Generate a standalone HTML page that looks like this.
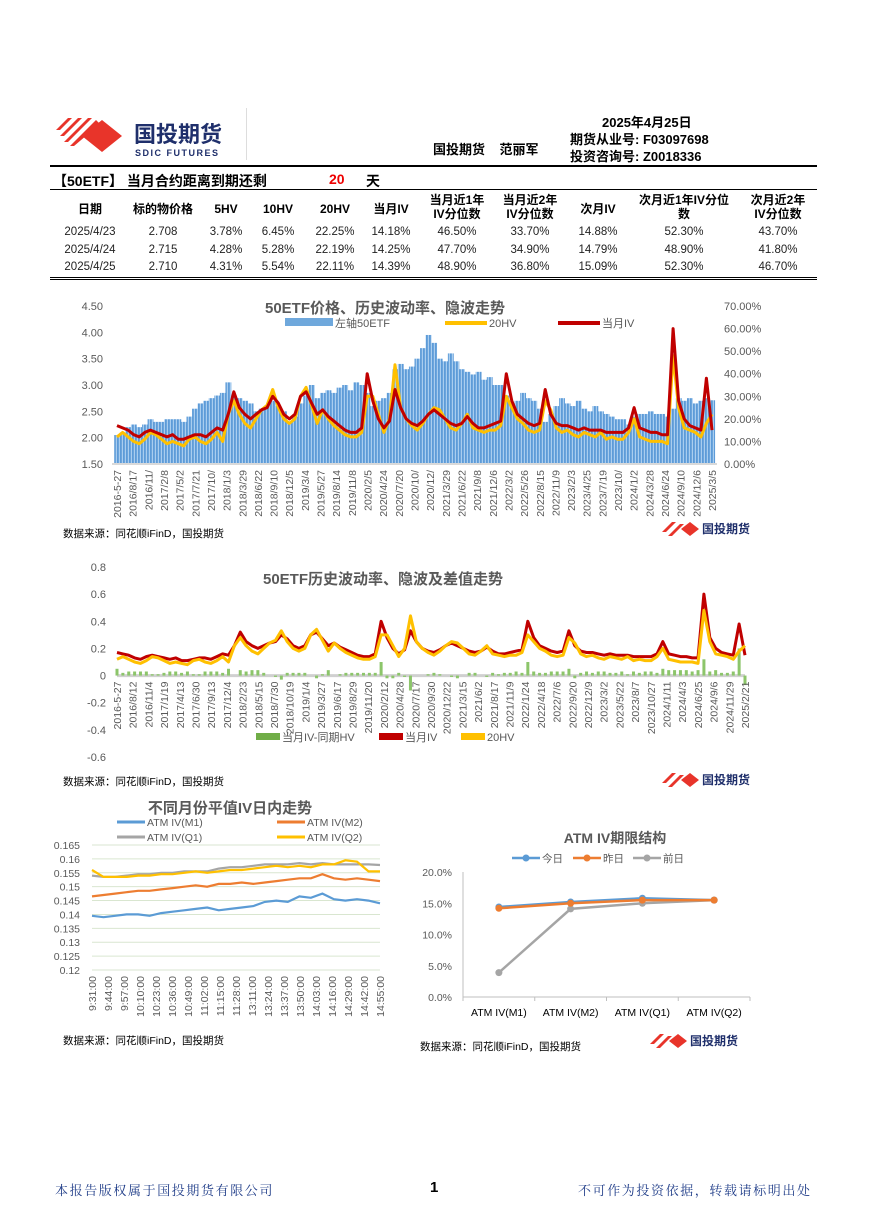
<!DOCTYPE html>
<html><head><meta charset="utf-8">
<style>
body{margin:0;background:#fff;}
#page{position:relative;width:870px;height:1231px;overflow:hidden;font-family:"Liberation Sans","Noto Sans CJK SC",sans-serif;color:#000;}
.abs{position:absolute;white-space:nowrap;}
.b{font-weight:bold;}
.c{text-align:center;}
.hd{font-size:12px;font-weight:bold;line-height:14px;}
.td{font-size:11.5px;color:#222;}
</style></head>
<body>
<div id="page">
<svg class="abs" style="left:50px;top:112px" width="200" height="50">
  <g fill="#e8342a">
    <polygon points="6,18 18,6 22,6 10,18"/><polygon points="10,24 28,6 32,6 14,24"/>
    <polygon points="14,30 38,6 42,6 18,30"/><polygon points="20,34 46,8 50,12 24,34"/>
    <polygon points="52,8 72,24 52,40 32,24"/>
  </g>
  <text x="84" y="30" font-size="22" font-weight="bold" fill="#1f2f6b" font-family="Liberation Sans,Noto Sans CJK SC,sans-serif">国投期货</text>
  <text x="85" y="44" font-size="9" font-weight="bold" fill="#1f2f6b" letter-spacing="1.5">SDIC FUTURES</text>
</svg>
<div class="abs" style="left:246px;top:108px;width:1px;height:52px;background:#ddd"></div>
<div class="abs b" style="left:602px;top:112px;font-size:13px">2025年4月25日</div>
<div class="abs b" style="left:433px;top:139px;font-size:13px">国投期货&nbsp;&nbsp;&nbsp;&nbsp;范丽军</div>
<div class="abs b" style="left:570px;top:131px;font-size:13px;line-height:17px">期货从业号: F03097698<br>投资咨询号: Z0018336</div>
<div class="abs" style="left:50px;top:165px;width:767px;height:2px;background:#000"></div>
<div class="abs b" style="left:53px;top:171px;font-size:14px">【50ETF】 当月合约距离到期还剩</div>
<div class="abs b" style="left:329px;top:171px;font-size:14px;color:#e00">20</div>
<div class="abs b" style="left:366px;top:171px;font-size:14px">天</div>
<div class="abs" style="left:50px;top:189px;width:767px;height:1px;background:#000"></div>
<div id="tbl"></div>
<div class="abs" style="left:50px;top:277px;width:767px;height:1px;background:#000"></div>
<div class="abs" style="left:50px;top:279px;width:767px;height:1px;background:#000"></div>

<svg id="charts" class="abs" style="left:0;top:0" width="870" height="1231">
  <defs>
    <pattern id="stripes" width="3" height="4" patternUnits="userSpaceOnUse">
      <rect width="3" height="4" fill="#a9cdef"/>
      <rect width="1.8" height="4" fill="#5d9bd8"/>
    </pattern>
  </defs>
</svg>

<div class="abs" style="left:55px;top:1180px;font-size:13px;letter-spacing:1.6px;color:#1f3c88;font-family:'Noto Serif CJK SC',serif">本报告版权属于国投期货有限公司</div>
<div class="abs b" style="left:430px;top:1179px;font-size:15px">1</div>
<div class="abs" style="left:578px;top:1180px;font-size:13px;letter-spacing:1.6px;color:#1f3c88;font-family:'Noto Serif CJK SC',serif">不可作为投资依据，转载请标明出处</div>
</div>

<script>
const tblHeaders=["日期","标的物价格","5HV","10HV","20HV","当月IV","当月近1年<br>IV分位数","当月近2年<br>IV分位数","次月IV","次月近1年IV分位<br>数","次月近2年<br>IV分位数"];
const tblRows=[
["2025/4/23","2.708","3.78%","6.45%","22.25%","14.18%","46.50%","33.70%","14.88%","52.30%","43.70%"],
["2025/4/24","2.715","4.28%","5.28%","22.19%","14.25%","47.70%","34.90%","14.79%","48.90%","41.80%"],
["2025/4/25","2.710","4.31%","5.54%","22.11%","14.39%","48.90%","36.80%","15.09%","52.30%","46.70%"]];
const colX=[90,163,226,278,335,391,457,530,598,684,778];
const colW=[70,80,50,50,50,50,70,70,60,110,80];
(function(){
 const t=document.getElementById('tbl');
 tblHeaders.forEach((h,i)=>{
  const d=document.createElement('div');
  d.className='abs hd c';
  
  
  const two=h.indexOf('<br>')>=0;
  d.style.left=(colX[i]-colW[i]/2)+'px';d.style.width=colW[i]+'px';
  d.style.top=(two?193:202)+'px';
  d.innerHTML=h;t.appendChild(d);
 });
 tblRows.forEach((r,ri)=>{
  r.forEach((v,i)=>{
   const d=document.createElement('div');
   d.className='abs td c';
   
   
   d.style.left=(colX[i]-colW[i]/2)+'px';d.style.width=colW[i]+'px';
   d.style.top=(226+ri*17.5)+'px';
   d.textContent=v;t.appendChild(d);
  });
 });
})();

const etfPrice=[2.05,2.1,2.2,2.25,2.2,2.25,2.35,2.3,
2.3,2.35,2.35,2.35,2.3,2.4,2.55,2.65,2.7,2.75,2.8,2.85,
3.05,2.8,2.75,2.7,2.65,2.5,2.55,2.6,2.7,2.6,2.5,2.3,
2.4,2.65,2.8,3.0,2.75,2.85,2.9,2.85,2.95,3.0,2.9,3.05,
3.0,2.85,2.6,2.7,2.75,2.85,3.3,3.4,3.3,3.35,3.5,3.7,
3.95,3.8,3.5,3.45,3.6,3.45,3.3,3.25,3.2,3.25,3.1,3.15,
3.0,3.0,2.8,2.65,2.7,2.85,2.75,2.7,2.55,2.3,2.45,2.6,
2.75,2.65,2.6,2.7,2.55,2.5,2.6,2.5,2.45,2.4,2.35,2.35,
2.25,2.4,2.45,2.45,2.5,2.45,2.45,2.4,2.55,2.75,2.7,2.75,
2.65,2.7,2.75,2.71];
const hv20=[12,14,12,10,9,11,14,13,
11,9,10,9,8,11,12,10,9,11,14,10,
22,28,22,18,16,20,24,26,33,25,20,18,
20,30,34,26,18,24,20,17,15,13,12,12,
14,30,30,22,14,20,44,25,20,17,15,18,
22,25,24,20,16,15,18,22,16,15,14,15,
15,17,30,25,20,18,15,14,15,28,24,16,
14,15,13,12,14,13,12,14,11,12,11,11,
14,20,12,11,10,10,10,9,48,25,16,15,
14,12,18,22];
const ivM1=[17,16,15,13,12,14,15,14,
13,12,13,11,11,12,13,13,12,14,16,15,
22,32,25,22,20,22,24,25,30,27,22,20,
22,30,32,27,22,24,21,19,17,15,14,14,
16,40,28,20,16,19,33,25,20,18,17,19,
22,24,22,20,18,17,18,21,18,16,16,17,
18,19,40,28,22,20,18,17,18,33,22,18,
17,17,16,15,16,15,15,15,14,14,14,14,
16,25,16,15,14,14,13,13,60,28,20,17,
16,15,38,15];
const labels1=["2016-5-27","2016/8/17","2016/11/","2017/2/8","2017/5/2","2017/7/21","2017/10/","2018/1/3","2018/3/29","2018/6/22","2018/9/10","2018/12/5","2019/3/4","2019/5/27","2019/8/14","2019/11/8","2020/2/5","2020/4/24","2020/7/20","2020/10/","2020/12/","2021/3/29","2021/6/22","2021/9/8","2021/12/6","2022/3/2","2022/5/26","2022/8/15","2022/11/9","2023/2/3","2023/4/25","2023/7/19","2023/10/","2024/1/2","2024/3/28","2024/6/24","2024/9/10","2024/12/6","2025/3/5"];
const ticksL1=["4.50","4.00","3.50","3.00","2.50","2.00","1.50"];
const ticksR1=["70.00%","60.00%","50.00%","40.00%","30.00%","20.00%","10.00%","0.00%"];
const labels2=["2016-5-27","2016/8/12","2016/11/4","2017/1/19","2017/4/13","2017/6/30","2017/9/13","2017/12/4","2018/2/23","2018/5/15","2018/7/30","2018/10/19","2019/1/4","2019/3/27","2019/6/17","2019/8/29","2019/11/20","2020/2/12","2020/4/28","2020/7/17","2020/9/30","2020/12/22","2021/3/15","2021/6/2","2021/8/17","2021/11/9","2022/1/24","2022/4/18","2022/7/6","2022/9/20","2022/12/9","2023/3/2","2023/5/22","2023/8/7","2023/10/27","2024/1/11","2024/4/3","2024/6/25","2024/9/6","2024/11/29","2025/2/21"];
const ticks2=["0.8","0.6","0.4","0.2","0","-0.2","-0.4","-0.6"];
const timeLabels=["9:31:00","9:44:00","9:57:00","10:10:00","10:23:00","10:36:00","10:49:00","11:02:00","11:15:00","11:28:00","13:11:00","13:24:00","13:37:00","13:50:00","14:03:00","14:16:00","14:29:00","14:42:00","14:55:00"];
const atmM1=[0.1395,0.139,0.1395,0.140,0.140,0.1395,0.1405,0.141,0.1415,0.142,0.1425,0.1415,0.142,0.1425,0.143,0.1445,0.145,0.1445,0.1465,0.146,0.1475,0.1455,0.145,0.1455,0.145,0.144];
const atmM2=[0.1465,0.147,0.1475,0.148,0.1485,0.1485,0.149,0.1495,0.150,0.1505,0.150,0.151,0.151,0.1515,0.151,0.1515,0.152,0.1525,0.153,0.153,0.1545,0.153,0.1525,0.153,0.1525,0.152];
const atmQ1=[0.154,0.1535,0.1535,0.154,0.1545,0.1545,0.155,0.155,0.1555,0.1555,0.1555,0.1565,0.157,0.157,0.1575,0.158,0.158,0.158,0.1585,0.158,0.1585,0.158,0.158,0.158,0.158,0.1578];
const atmQ2=[0.156,0.1535,0.1535,0.1535,0.154,0.154,0.1545,0.1545,0.155,0.1555,0.155,0.1555,0.156,0.156,0.1565,0.157,0.1575,0.157,0.1575,0.157,0.158,0.158,0.1595,0.159,0.1555,0.1555];
const ticks3=["0.165","0.16","0.155","0.15","0.145","0.14","0.135","0.13","0.125","0.12"];
const termCats=["ATM IV(M1)","ATM IV(M2)","ATM IV(Q1)","ATM IV(Q2)"];
const termToday=[14.4,15.2,15.8,15.5];
const termYest=[14.2,15.0,15.5,15.5];
const termPrev=[3.9,14.1,15.0,15.5];
const ticks4=["20.0%","15.0%","10.0%","5.0%","0.0%"];

const svg=document.getElementById('charts');
const NS='http://www.w3.org/2000/svg';
function mk(tag,attrs,parent){const e=document.createElementNS(NS,tag);for(const k in attrs)e.setAttribute(k,attrs[k]);(parent||svg).appendChild(e);return e;}
function txt(x,y,s,attrs,parent){const e=mk('text',Object.assign({x:x,y:y,'font-size':11,fill:'#595959','font-family':'Liberation Sans,Noto Sans CJK SC,sans-serif'},attrs||{}),parent);e.textContent=s;return e;}
function poly(xs,ys){return xs.map((x,i)=>x.toFixed(1)+','+ys[i].toFixed(1)).join(' ');}

(function(){
 const g=mk('g',{});
 
 
 const x0=117,x1=712,yT=306,yB=464;
 const n=etfPrice.length;
 const xs=i=>x0+(x1-x0)*i/(n-1);
 const yL=v=>yB-(v-1.5)/3*(yB-yT);
 const yR=v=>yB-v/70*(yB-yT);
 ticksL1.forEach((t,i)=>{const e=txt(103,yT+i*(yB-yT)/6+4,t,{'text-anchor':'end','font-size':11},g);});
 ticksR1.forEach((t,i)=>{const e=txt(724,yT+i*(yB-yT)/7+4,t,{'font-size':11},g);});
 const w=(x1-x0)/(n-1);
 etfPrice.forEach((v,i)=>{
  const r=mk('rect',{x:xs(i)-w/2,y:yL(v),width:w+0.3,height:yB-yL(v),fill:'url(#stripes)'},g);
  
  
 });
 const ax=mk('line',{x1:x0-5,x2:x1+5,y1:yB,y2:yB,stroke:'#d9d9d9','stroke-width':2},g);
 
 const xsA=etfPrice.map((_,i)=>xs(i));
 const l1=mk('polyline',{points:poly(xsA,hv20.map(yR)),fill:'none',stroke:'#ffc000','stroke-width':3,'stroke-linejoin':'round'},g);
 
 const l2=mk('polyline',{points:poly(xsA,ivM1.map(yR)),fill:'none',stroke:'#c00000','stroke-width':3,'stroke-linejoin':'round'},g);
 
 labels1.forEach((s,i)=>{
  const x=x0+(x1-x0)*i/(labels1.length-1)+4;
  const e=txt(0,0,s,{'text-anchor':'end','font-size':10.5,transform:`translate(${x},${yB+6}) rotate(-90)`},g);
  
 });
 const tt=txt(385,313,'50ETF价格、历史波动率、隐波走势',{'text-anchor':'middle','font-size':15,'font-weight':'bold',fill:'#595959'},g);
 
 [['#6fa8dc','左轴50ETF',285,'rect'],['#ffc000','20HV',465,'line'],['#c00000','当月IV',578,'line']].forEach(l=>{
  const lg=mk('g',{},g);
  
  if(l[3]==='rect')mk('rect',{x:l[2],y:318,width:48,height:8,fill:l[0]},lg);
  else mk('line',{x1:l[2]-20,x2:l[2]+22,y1:323,y2:323,stroke:l[0],'stroke-width':4},lg);
  txt(l[2]+(l[3]==='rect'?50:24),327,l[1],{'font-size':11},lg);
 });
 const src=txt(63,537,'数据来源：同花顺iFinD，国投期货',{'font-size':10.5,fill:'#000'},g);
 
})();

function smallLogo(x,y){
 const g=mk('g',{transform:`translate(${x},${y})`});
 
 mk('polygon',{points:'0,10 10,0 14,0 4,10',fill:'#e8342a'},g);
 mk('polygon',{points:'6,14 18,2 22,2 10,14',fill:'#e8342a'},g);
 mk('polygon',{points:'28,0 37,7 28,14 19,7',fill:'#e8342a'},g);
 txt(40,11,'国投期货',{'font-size':12,'font-weight':'bold',fill:'#1f2f6b'},g);
}
smallLogo(662,522);
smallLogo(662,773);
smallLogo(650,1034);

(function(){
 const g=mk('g',{});
 
 
 const x0=117,x1=745,yT=567,yB=757;
 const n=hv20.length;
 const xs=i=>x0+(x1-x0)*i/(n-1);
 const y=v=>yT+(0.8-v)/1.4*(yB-yT);
 ticks2.forEach((t,i)=>{const e=txt(106,yT+i*(yB-yT)/7+4,t,{'text-anchor':'end','font-size':11},g);});
 const z=mk('line',{x1:x0,x2:x1,y1:y(0),y2:y(0),stroke:'#d0d0d0','stroke-width':3},g);
 
 hv20.forEach((h,i)=>{
  const d=(ivM1[i]-h)/100;
  const r=mk('rect',{x:xs(i)-1.5,y:Math.min(y(d),y(0)),width:3,height:Math.abs(y(d)-y(0)),fill:'#8cc56a'},g);
  
 });
 const xsA=hv20.map((_,i)=>xs(i));
 const l2=mk('polyline',{points:poly(xsA,ivM1.map(v=>y(v/100))),fill:'none',stroke:'#c00000','stroke-width':3,'stroke-linejoin':'round'},g);
 
 const l1=mk('polyline',{points:poly(xsA,hv20.map(v=>y(v/100))),fill:'none',stroke:'#ffc000','stroke-width':3,'stroke-linejoin':'round'},g);
 
 labels2.forEach((s,i)=>{
  const x=x0+(x1-x0)*i/(labels2.length-1)+4;
  const e=txt(0,0,s,{'text-anchor':'end','font-size':10.5,transform:`translate(${x},${y(0)+6}) rotate(-90)`},g);
  
 });
 const tt=txt(383,584,'50ETF历史波动率、隐波及差值走势',{'text-anchor':'middle','font-size':15,'font-weight':'bold',fill:'#595959'},g);
 
 [['#70ad47','当月IV-同期HV',282],['#c00000','当月IV',405],['#ffc000','20HV',487]].forEach(l=>{
  const lg=mk('g',{},g);
  
  mk('rect',{x:l[2]-26,y:733,width:24,height:7,fill:l[0]},lg);
  txt(l[2],741,l[1],{'font-size':11},lg);
 });
 const src=txt(63,785,'数据来源：同花顺iFinD，国投期货',{'font-size':10.5,fill:'#000'},g);
 
})();

(function(){
 const g=mk('g',{});
 
 
 const x0=92,x1=380,yT=845,yB=970;
 const n=atmM1.length;
 const xs=i=>x0+(x1-x0)*i/(n-1);
 const y=v=>yB-(v-0.12)/0.045*(yB-yT);
 ticks3.forEach((t,i)=>{
  const yy=yT+i*(yB-yT)/9;
  mk('line',{x1:x0,x2:x1,y1:yy,y2:yy,stroke:'#d9e6d0','stroke-width':1},g);
  const e=txt(80,yy+4,t,{'text-anchor':'end','font-size':10.5},g);
  
 });
 const xsA=atmM1.map((_,i)=>xs(i));
 [[atmM1,'#5b9bd5','atm-m1-line'],[atmM2,'#ed7d31','atm-m2-line'],[atmQ1,'#a5a5a5','atm-q1-line'],[atmQ2,'#ffc000','atm-q2-line']].forEach(s=>{
  const l=mk('polyline',{points:poly(xsA,s[0].map(y)),fill:'none',stroke:s[1],'stroke-width':2.2},g);
  
 });
 timeLabels.forEach((s,i)=>{
  const x=x0+(x1-x0)*i/(timeLabels.length-1)+4;
  const e=txt(0,0,s,{'text-anchor':'end','font-size':10.5,transform:`translate(${x},${yB+6}) rotate(-90)`},g);
  
 });
 const tt=txt(230,813,'不同月份平值IV日内走势',{'text-anchor':'middle','font-size':15,'font-weight':'bold',fill:'#595959'},g);
 
 [['#5b9bd5','ATM IV(M1)',117,826],['#ed7d31','ATM IV(M2)',277,826],['#a5a5a5','ATM IV(Q1)',117,841],['#ffc000','ATM IV(Q2)',277,841]].forEach(l=>{
  const lg=mk('g',{},g);
  
  mk('line',{x1:l[2],x2:l[2]+28,y1:l[3]-4,y2:l[3]-4,stroke:l[0],'stroke-width':3},lg);
  txt(l[2]+30,l[3],l[1],{'font-size':10.5},lg);
 });
 const src=txt(63,1044,'数据来源：同花顺iFinD，国投期货',{'font-size':10.5,fill:'#000'},g);
 
})();

(function(){
 const g=mk('g',{});
 
 
 const x0=463,x1=750,yT=872,yB=997;
 const n=termCats.length;
 const xs=i=>x0+(x1-x0)*(i+0.5)/n;
 const y=v=>yB-v/20*(yB-yT);
 mk('line',{x1:x0,x2:x0,y1:yT,y2:yB,stroke:'#bfbfbf'},g);
 mk('line',{x1:x0,x2:x1,y1:yB,y2:yB,stroke:'#bfbfbf'},g);
 for(let i=0;i<=n;i++)mk('line',{x1:x0+(x1-x0)*i/n,x2:x0+(x1-x0)*i/n,y1:yB,y2:yB+4,stroke:'#bfbfbf'},g);
 ticks4.forEach((t,i)=>{const e=txt(452,yT+i*(yB-yT)/4+4,t,{'text-anchor':'end','font-size':10.5},g);});
 termCats.forEach((c,i)=>{const e=txt(xs(i),1016,c,{'text-anchor':'middle','font-size':10.5,fill:'#000'},g);});
 const xsA=termCats.map((_,i)=>xs(i));
 [[termPrev,'#a5a5a5','prev-day-line'],[termToday,'#5b9bd5','today-line'],[termYest,'#ed7d31','yesterday-line']].forEach(s=>{
  const l=mk('polyline',{points:poly(xsA,s[0].map(y)),fill:'none',stroke:s[1],'stroke-width':2.5},g);
  
  s[0].forEach((v,i)=>{const c=mk('circle',{cx:xs(i),cy:y(v),r:3.5,fill:s[1]},g);});
 });
 const tt=txt(615,843,'ATM IV期限结构',{'text-anchor':'middle','font-size':14,'font-weight':'bold',fill:'#595959'},g);
 
 [['#5b9bd5','今日',512],['#ed7d31','昨日',573],['#a5a5a5','前日',633]].forEach(l=>{
  const lg=mk('g',{},g);
  
  mk('line',{x1:l[2],x2:l[2]+28,y1:858,y2:858,stroke:l[0],'stroke-width':2.5},lg);
  mk('circle',{cx:l[2]+14,cy:858,r:3.5,fill:l[0]},lg);
  txt(l[2]+30,862,l[1],{'font-size':10.5},lg);
 });
 const src=txt(420,1050,'数据来源：同花顺iFinD，国投期货',{'font-size':10.5,fill:'#000'},g);
 
})();
</script>
</body></html>
